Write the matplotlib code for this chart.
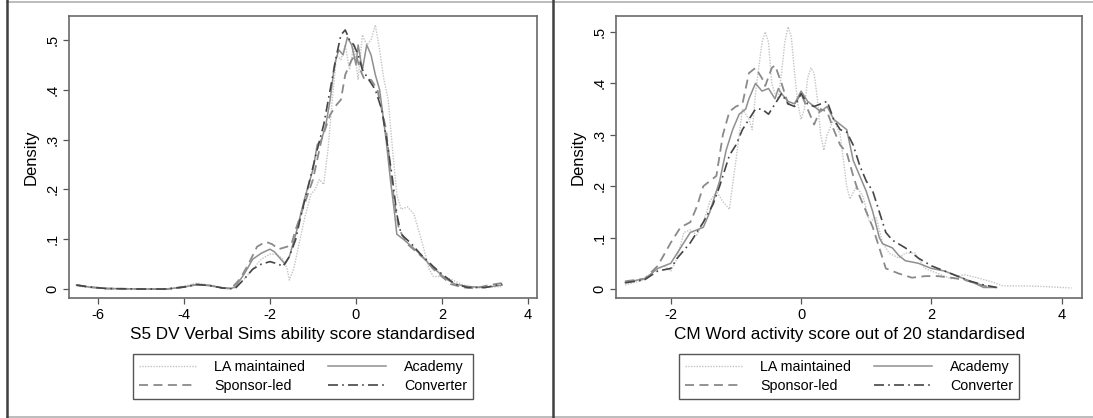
import matplotlib
matplotlib.use("Agg")
import matplotlib.pyplot as plt
from matplotlib.lines import Line2D

plt.rcParams['font.family'] = ['Liberation Sans', 'DejaVu Sans']

series_names = ["LA maintained", "Sponsor-led", "Academy", "Converter"]

# ---------------- Left panel: S5 DV Verbal Sims ----------------
tail_x = [-6.5, -6.2, -5.8, -5.0, -4.4, -4.0, -3.7, -3.4, -3.1, -2.9]
tail_y = [0.008, 0.004, 0.001, 0.0, 0.0, 0.004, 0.009, 0.007, 0.002, 0.001]
tail_y_la = [0.006, 0.003, 0.001, 0.0, 0.0, 0.006, 0.012, 0.008, 0.003, 0.001]

L_la_x = [-2.8, -2.6, -2.4, -2.2, -2.0, -1.85, -1.7, -1.6, -1.55, -1.45, -1.35, -1.2, -1.05, -0.95,
          -0.85, -0.75, -0.65, -0.55, -0.45, -0.35, -0.25, -0.15, -0.05, 0.05, 0.15, 0.25, 0.35,
          0.45, 0.55, 0.65, 0.75, 0.85, 0.95, 1.05, 1.2, 1.35, 1.45, 1.55, 1.7, 1.8, 2.0, 2.2,
          2.5, 2.8, 3.1, 3.4]
L_la_y = [0.003, 0.02, 0.04, 0.06, 0.07, 0.07, 0.06, 0.04, 0.018, 0.04, 0.08, 0.14, 0.19, 0.20,
          0.22, 0.21, 0.28, 0.38, 0.47, 0.46, 0.49, 0.44, 0.49, 0.42, 0.51, 0.49, 0.50,
          0.53, 0.48, 0.42, 0.38, 0.28, 0.19, 0.16, 0.165, 0.15, 0.12, 0.09, 0.04, 0.025, 0.025, 0.02,
          0.008, 0.003, 0.004, 0.005]

L_sp_x = [-2.7, -2.5, -2.3, -2.1, -1.95, -1.8, -1.6, -1.5, -1.4, -1.2, -1.0, -0.9, -0.8, -0.6,
          -0.45, -0.35, -0.25, -0.1, 0.0, 0.1, 0.2, 0.35, 0.5, 0.7, 0.8, 0.9, 1.0, 1.2, 1.4,
          1.6, 1.8, 2.0, 2.2, 2.5, 2.8, 3.1, 3.4]
L_sp_y = [0.02, 0.05, 0.085, 0.095, 0.09, 0.08, 0.085, 0.09, 0.12, 0.17, 0.22, 0.26, 0.30, 0.35,
          0.37, 0.38, 0.43, 0.46, 0.47, 0.44, 0.42, 0.42, 0.40, 0.32, 0.24, 0.17, 0.12, 0.09, 0.075,
          0.06, 0.04, 0.025, 0.01, 0.003, 0.002, 0.008, 0.012]

L_ac_x = [-2.8, -2.6, -2.4, -2.2, -2.0, -1.9, -1.8, -1.65, -1.55, -1.4, -1.2, -1.0, -0.9, -0.8,
          -0.7, -0.6, -0.5, -0.4, -0.3, -0.2, -0.1, 0.0, 0.05, 0.15, 0.25, 0.35, 0.45, 0.55,
          0.7, 0.8, 0.9, 0.95, 1.1, 1.3, 1.5, 1.7, 1.9, 2.1, 2.3, 2.6, 3.0, 3.4]
L_ac_y = [0.005, 0.03, 0.06, 0.072, 0.08, 0.075, 0.065, 0.05, 0.065, 0.11, 0.18, 0.24, 0.29, 0.30,
          0.33, 0.38, 0.45, 0.48, 0.47, 0.505, 0.49, 0.45, 0.49, 0.44, 0.49, 0.47, 0.43, 0.40,
          0.30, 0.22, 0.15, 0.11, 0.10, 0.085, 0.07, 0.05, 0.035, 0.02, 0.01, 0.005, 0.003, 0.008]

L_cv_x = [-2.8, -2.6, -2.4, -2.2, -2.0, -1.8, -1.7, -1.55, -1.4, -1.3, -1.1, -0.9, -0.75, -0.6,
          -0.45, -0.35, -0.25, -0.15, -0.05, 0.05, 0.15, 0.3, 0.45, 0.6, 0.75, 0.85, 0.95, 1.05,
          1.3, 1.5, 1.8, 2.0, 2.3, 2.6, 3.0, 3.4]
L_cv_y = [0.002, 0.02, 0.04, 0.05, 0.055, 0.05, 0.045, 0.065, 0.10, 0.14, 0.21, 0.28, 0.33, 0.40,
          0.47, 0.51, 0.52, 0.50, 0.49, 0.47, 0.44, 0.42, 0.40, 0.36, 0.28, 0.22, 0.15, 0.11,
          0.09, 0.07, 0.045, 0.03, 0.01, 0.003, 0.003, 0.01]

# ---------------- Right panel: CM Word activity ----------------
R_la_x = [-2.7, -2.4, -2.2, -2.1, -2.0, -1.9, -1.8, -1.7, -1.6, -1.5, -1.4, -1.3, -1.2, -1.1,
          -1.0, -0.9, -0.8, -0.75, -0.7, -0.6, -0.55, -0.5, -0.45, -0.4, -0.35, -0.3, -0.25,
          -0.2, -0.15, -0.1, -0.05, 0.0, 0.05, 0.1, 0.15, 0.2, 0.25, 0.3, 0.35, 0.4, 0.5, 0.6,
          0.7, 0.75, 0.85, 0.95, 1.05, 1.15, 1.25, 1.35, 1.5, 1.6, 1.75, 1.9, 2.1, 2.3, 2.5,
          2.7, 2.9, 3.1, 3.4, 3.7, 4.15]
R_la_y = [0.008, 0.018, 0.04, 0.045, 0.035, 0.06, 0.11, 0.115, 0.105, 0.13, 0.17, 0.19, 0.17, 0.155,
          0.25, 0.35, 0.33, 0.31, 0.38, 0.48, 0.50, 0.48, 0.40, 0.38, 0.37, 0.42, 0.48,
          0.51, 0.49, 0.42, 0.36, 0.33, 0.35, 0.41, 0.43, 0.42, 0.37, 0.30, 0.27, 0.30, 0.33, 0.30,
          0.20, 0.175, 0.20, 0.18, 0.13, 0.14, 0.09, 0.07, 0.06, 0.07, 0.07, 0.04, 0.03, 0.02, 0.028,
          0.022, 0.015, 0.006, 0.006, 0.005, 0.002]

R_sp_x = [-2.7, -2.4, -2.2, -2.0, -1.85, -1.7, -1.6, -1.5, -1.4, -1.3, -1.2, -1.1, -1.0, -0.9,
          -0.8, -0.7, -0.6, -0.55, -0.45, -0.4, -0.3, -0.2, -0.1, 0.0, 0.1, 0.2, 0.3, 0.4, 0.5,
          0.6, 0.7, 0.8, 0.9, 1.0, 1.1, 1.2, 1.3, 1.5, 1.7, 1.9, 2.1, 2.3, 2.5, 2.7, 2.9]
R_sp_y = [0.015, 0.02, 0.045, 0.09, 0.12, 0.13, 0.16, 0.20, 0.21, 0.22, 0.30, 0.345, 0.355, 0.36,
          0.42, 0.43, 0.41, 0.395, 0.43, 0.435, 0.40, 0.36, 0.36, 0.38, 0.35, 0.32, 0.35, 0.345, 0.31,
          0.28, 0.265, 0.22, 0.18, 0.15, 0.12, 0.08, 0.04, 0.03, 0.022, 0.025, 0.025, 0.022, 0.018,
          0.01, 0.003]

R_ac_x = [-2.7, -2.4, -2.2, -2.0, -1.9, -1.8, -1.7, -1.6, -1.5, -1.4, -1.3, -1.25, -1.15, -1.05,
          -0.95, -0.85, -0.8, -0.7, -0.6, -0.5, -0.4, -0.35, -0.3, -0.2, -0.1, 0.0, 0.1, 0.2,
          0.3, 0.4, 0.5, 0.6, 0.7, 0.8, 0.9, 1.0, 1.1, 1.2, 1.25, 1.4, 1.5, 1.6, 1.8, 2.0, 2.2,
          2.4, 2.6, 2.8, 3.0]
R_ac_y = [0.013, 0.02, 0.04, 0.05, 0.07, 0.09, 0.11, 0.115, 0.12, 0.15, 0.19, 0.21, 0.27, 0.31,
          0.34, 0.35, 0.37, 0.40, 0.385, 0.39, 0.37, 0.39, 0.38, 0.365, 0.36, 0.385, 0.365, 0.355,
          0.345, 0.355, 0.33, 0.32, 0.31, 0.25, 0.22, 0.19, 0.15, 0.10, 0.088, 0.08, 0.065, 0.055,
          0.05, 0.04, 0.035, 0.025, 0.015, 0.003, 0.003]

R_cv_x = [-2.7, -2.4, -2.2, -2.0, -1.9, -1.8, -1.7, -1.5, -1.35, -1.25, -1.1, -1.0, -0.9, -0.8,
          -0.7, -0.6, -0.5, -0.4, -0.3, -0.2, -0.1, 0.0, 0.1, 0.2, 0.3, 0.4, 0.5, 0.6, 0.7, 0.8,
          0.9, 1.0, 1.1, 1.2, 1.3, 1.4, 1.6, 1.8, 2.0, 2.2, 2.4, 2.6, 2.8, 3.0]
R_cv_y = [0.012, 0.018, 0.035, 0.04, 0.06, 0.075, 0.09, 0.13, 0.165, 0.20, 0.26, 0.28, 0.31, 0.33,
          0.35, 0.35, 0.34, 0.36, 0.38, 0.36, 0.355, 0.38, 0.36, 0.355, 0.36, 0.365, 0.33, 0.31,
          0.305, 0.28, 0.24, 0.21, 0.19, 0.15, 0.11, 0.095, 0.08, 0.06, 0.045, 0.035, 0.025,
          0.015, 0.008, 0.003]

left_xticks = [-6, -4, -2, 0, 2, 4]
right_xticks = [-2, 0, 2, 4]
yticks = [0, 0.1, 0.2, 0.3, 0.4, 0.5]
ytick_labels = ["0", ".1", ".2", ".3", ".4", ".5"]

styles = {
    "LA maintained": dict(color="#c4c4c4", linestyle=(0, (1, 1)), linewidth=1.0),
    "Sponsor-led": dict(color="#8a8a8a", linestyle=(0, (5, 3)), linewidth=1.3),
    "Academy": dict(color="#8f8f8f", linestyle="-", linewidth=1.1),
    "Converter": dict(color="#454545", linestyle=(0, (6, 2.5, 1, 2.5)), linewidth=1.2),
}

W, H = 1093, 418
fig = plt.figure(figsize=(W / 100, H / 100), dpi=100)
fig.patch.set_facecolor("white")


def make_axes(rect):
    x0, y0, x1, y1 = rect
    return fig.add_axes([x0 / W, 1 - y1 / H, (x1 - x0) / W, (y1 - y0) / H])


axL = make_axes((69, 16, 537, 298))
axR = make_axes((616, 16, 1082, 298))

left_data = {
    "LA maintained": (tail_x + L_la_x, tail_y_la + L_la_y),
    "Sponsor-led": (tail_x + L_sp_x, tail_y + L_sp_y),
    "Academy": (tail_x + L_ac_x, tail_y + L_ac_y),
    "Converter": (tail_x + L_cv_x, tail_y + L_cv_y),
}
right_data = {
    "LA maintained": (R_la_x, R_la_y),
    "Sponsor-led": (R_sp_x, R_sp_y),
    "Academy": (R_ac_x, R_ac_y),
    "Converter": (R_cv_x, R_cv_y),
}

for ax, data, xticks, xlim, ylim, xlabel in [
    (axL, left_data, left_xticks, (-6.674, 4.21), (-0.018, 0.548),
     "S5 DV Verbal Sims ability score standardised"),
    (axR, right_data, right_xticks, (-2.84, 4.31), (-0.0175, 0.531),
     "CM Word activity score out of 20 standardised"),
]:
    hs = []
    for name in series_names:
        xs, ys = data[name]
        h, = ax.plot(xs, ys, label=name, **styles[name])
        hs.append(h)
    ax.set_xlim(*xlim)
    ax.set_ylim(*ylim)
    ax.set_xticks(xticks)
    ax.set_xticklabels([str(t) for t in xticks])
    ax.set_yticks(yticks)
    ax.set_yticklabels(ytick_labels, rotation=90, va="center")
    ax.tick_params(axis="both", direction="out", length=4, width=0.9, color="#555555",
                   labelsize=10.5, pad=3)
    for sp in ax.spines.values():
        sp.set_color("#6a6a6a")
        sp.set_linewidth(1.2)
    ax.set_xlabel(xlabel, fontsize=12.3, labelpad=4)
    ax.set_ylabel("Density", fontsize=12, labelpad=5)

    bb = ax.get_position()
    cx = (bb.x0 + bb.x1) / 2
    fig.legend(handles=hs, labels=series_names, ncol=2, loc="upper center",
               bbox_to_anchor=(cx, 1 - 347 / H), frameon=True, fancybox=False,
               edgecolor="#555555", framealpha=1, fontsize=10.3, handlelength=4.0,
               handletextpad=1.3, columnspacing=1.6, borderpad=0.4, labelspacing=0.35)

# outer frame lines
fig.add_artist(Line2D([7 / W, 1], [1 - 1.5 / H, 1 - 1.5 / H], color="#b0b0b0", lw=1.2,
                      transform=fig.transFigure))
fig.add_artist(Line2D([7 / W, 1], [1.5 / H, 1.5 / H], color="#b0b0b0", lw=1.2,
                      transform=fig.transFigure))
fig.add_artist(Line2D([7 / W, 7 / W], [0, 1], color="#404040", lw=1.8,
                      transform=fig.transFigure))
fig.add_artist(Line2D([553 / W, 553 / W], [0, 1], color="#404040", lw=1.8,
                      transform=fig.transFigure))

fig.savefig("out.png", dpi=100, facecolor="white")
